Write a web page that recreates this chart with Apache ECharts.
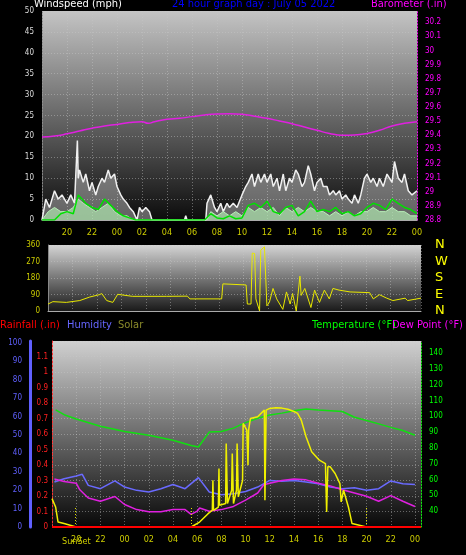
<!DOCTYPE html>
<html>
<head>
<meta charset="utf-8">
<script src="https://cdn.jsdelivr.net/npm/echarts@6/dist/echarts.min.js"></script>
<style>
html,body{margin:0;padding:0;background:#000;}
#chart{width:466px;height:555px;}
</style>
</head>
<body>
<div id="chart"></div>
<script>
// hours: 18 = 18:00 on previous day, 48 = 00:00 next day
var gustData = [[18,0],[18.3,5],[18.6,3],[19,7],[19.3,5],[19.6,6],[20,4],[20.3,6],[20.6,4],[20.83,19],[20.9,10],[21,12],[21.3,9],[21.5,11],[21.8,7],[22,9],[22.3,6],[22.5,8],[22.8,10],[23,9],[23.3,12],[23.5,10],[23.8,11],[24,8],[24.3,6],[24.5,5],[24.8,4],[25,3],[25.3,2],[25.6,0],[25.8,3],[26,2],[26.3,3],[26.6,2],[26.8,0],[29.4,0],[29.5,1],[29.6,0],[31.1,0],[31.2,4],[31.5,6],[31.8,3],[32,2],[32.3,4],[32.5,2],[32.8,4],[33,3],[33.3,4],[33.6,3],[34,6],[34.3,8],[34.5,9],[34.8,11],[35,8],[35.3,11],[35.5,9],[35.8,11],[36,9],[36.3,11],[36.5,8],[36.8,10],[37,7],[37.3,11],[37.5,7],[37.8,10],[38,9],[38.3,12],[38.5,11],[38.8,8],[39,9],[39.3,13],[39.5,11],[39.8,7],[40,9],[40.3,10],[40.5,8],[40.8,8],[41,6],[41.3,7],[41.5,6],[41.8,7],[42,5],[42.3,6],[42.5,5],[42.8,4],[43,6],[43.3,4],[43.5,6],[43.8,10],[44,11],[44.3,9],[44.5,10],[44.8,8],[45,10],[45.3,8],[45.6,11],[46,9],[46.2,14],[46.5,10],[46.8,9],[47,11],[47.3,7],[47.6,6],[48,7]];
var speedData = [[18,0],[18.5,2],[19,3],[19.5,2],[20,2],[20.5,3],[20.9,5],[21.3,4],[21.8,3],[22.3,2],[22.8,3],[23.3,4],[23.8,2],[24.3,1],[24.8,1],[25.3,0],[31.2,0],[31.5,2],[32,1],[32.5,2],[33,1],[33.5,2],[34,1],[34.5,3],[35,2],[35.5,3],[36,2],[36.5,3],[37,1],[37.5,3],[38,2],[38.5,3],[39,2],[39.5,3],[40,2],[40.5,2],[41,1],[41.5,2],[42,1],[42.5,2],[43,1],[43.5,2],[44,2],[44.5,3],[45,2],[45.5,2],[46,3],[46.5,2],[47,2],[47.5,1],[48,1]];
var avgData = [[18,0],[19,0],[19.5,1.5],[20,2],[20.5,1.5],[20.9,6],[21.5,4],[22,3],[22.5,2.5],[23,5],[23.5,3.5],[24,2],[24.5,1],[25,0.5],[25.5,0],[31,0],[31.5,1.5],[32,0.5],[32.5,0.3],[33,1],[33.5,0.3],[34,0.5],[34.5,3.5],[35,4],[35.5,3],[36,4.5],[36.5,2],[37,1.5],[37.5,3],[38,3.5],[38.5,1],[39,2],[39.5,4.5],[40,2],[40.5,2.5],[41,2],[41.5,3],[42,1.5],[42.5,2],[43,1],[43.5,1.5],[44,3],[44.5,4],[45,3.5],[45.5,2.5],[46,5],[46.5,4],[47,3],[47.5,2.5],[48,1.5]];
var baroData = [[18,29.387],[19,29.394],[20,29.41],[21,29.43],[22,29.45],[23,29.466],[24,29.477],[25,29.49],[26,29.496],[26.5,29.485],[27,29.496],[28,29.513],[29,29.52],[30,29.532],[31,29.544],[32,29.551],[33,29.553],[34,29.549],[35,29.535],[36,29.52],[37,29.501],[38,29.482],[39,29.458],[40,29.435],[41,29.413],[42,29.4],[43,29.402],[44,29.413],[45,29.435],[46,29.466],[47,29.485],[48,29.496]];

var dirData = [[18,38],[18.4,51],[19.5,47],[20.6,57],[21.4,76],[22.2,89],[22.4,95],[22.8,57],[23.3,47],[23.7,91],[24.9,80],[27.7,80],[29.4,81],[29.6,66],[32.2,66],[32.3,148],[34.2,142],[34.3,38],[34.6,38],[34.7,316],[34.9,313],[35.0,66],[35.3,0],[35.4,332],[35.7,350],[35.8,354],[35.9,28],[36.1,47],[36.4,123],[36.7,66],[37.2,9],[37.5,104],[37.8,38],[38.0,95],[38.3,0],[38.6,190],[38.7,85],[39.0,123],[39.5,19],[39.8,114],[40.2,47],[40.6,114],[41.0,66],[41.3,123],[41.8,114],[42.7,104],[44.3,100],[44.6,66],[45.1,89],[45.7,70],[46.2,57],[47.2,70],[47.4,57],[48.5,70]];
var dirLabels = {0:"N",90:"E",180:"S",270:"W",360:"N"};

var tempData = [[18.3,104],[19,101],[20,98.3],[22,93.7],[24,90.4],[26,88],[28,84.8],[29.5,81.5],[30.1,80.6],[31,90],[32,90.4],[33,92.5],[34,96],[35,98.7],[36,100.8],[37,102],[38,103.5],[39,104.6],[40,104],[41,103.5],[42,103],[43,99.4],[44,97.3],[45,95.2],[46,93],[47,91],[48,88]];
var dewData = [[18.2,60.4],[19,58.8],[20,57.7],[20.3,53.5],[21,48.3],[22,46.3],[23.2,49.3],[24,44.2],[25,41],[26,39.6],[27,39.6],[28,41],[29,41],[29.5,38],[30,40],[30.2,42],[31,40],[32,41],[33,43],[34,47],[35,51.5],[35.5,56.7],[36,57.7],[37,59.4],[38,60.4],[39,59.8],[40,57.7],[41,56],[42,53.5],[43,51.5],[44,49.4],[45,46.3],[46,49.8],[47,46.3],[48,43]];
var humData = [[18.2,24.4],[19,26.2],[20,27.7],[20.5,28.6],[21,22.6],[22,20.8],[23.2,25],[24,21.7],[25,19.9],[26,19],[27,20.8],[28,23.1],[29,20.8],[30.1,26.8],[31,19],[32,17.5],[33,18],[34,19.3],[35,21.7],[36,25.3],[37,24.8],[38,25.3],[39,24.4],[40,23.5],[41,21.7],[42,20.8],[43,21.3],[44,19.9],[45,20.8],[46,25],[47,23.5],[48,23.1]];
var rainData = [[18,0],[48.5,0]];
var solarData = [[18,183],[18.3,129],[18.5,32],[19,22],[20,0],[29.5,0],[30.2,32],[30.9,86],[31.25,108],[31.3,302],[31.35,108],[31.75,129],[31.8,377],[31.85,140],[32,129],[32.35,151],[32.4,539],[32.5,151],[32.6,151],[32.85,237],[32.9,474],[33.0,151],[33.1,162],[33.25,237],[33.3,539],[33.4,194],[33.5,194],[33.75,300],[33.8,668],[34.1,625],[34.2,398],[34.25,625],[34.4,700],[35,711],[35.55,754],[35.6,172],[35.7,754],[36,765],[36.5,769],[37,767],[37.5,760],[38,745],[38.3,733],[38.6,690],[39,582],[39.46,485],[40.1,431],[40.6,409],[40.7,97],[40.8,388],[41,388],[41.4,345],[41.8,280],[41.9,162],[42.1,237],[42.5,129],[42.8,22],[44,0],[48.5,0]];
var sunLines = [19.9, 29.5, 44.0];

function hourLabel(v) {
    var h = v % 24;
    return (h < 10 ? "0" : "") + h;
}

var gridBg = function (top, bottom) {
    return new echarts.graphic.LinearGradient(0, 0, 0, 1, [
        {offset: 0, color: top}, {offset: 1, color: bottom}
    ]);
};

var FONT = "DejaVu Sans Condensed";
var splitDots = {show: true, lineStyle: {color: "rgba(200,200,200,0.45)", type: [1, 2]}};

function label(x, y, text, color) {
    return {type: "text", left: x, top: y, style: {text: text, fill: color, font: "11px " + FONT}};
}

var myChart = echarts.init(document.getElementById("chart"));
var option = {
    backgroundColor: "#000",
    animation: false,
    textStyle: {fontFamily: FONT},
    graphic: [
        label(34, -1, "Windspeed (mph)", "#fff"),
        label(172, -1, "24 hour graph day : July 05 2022", "#0000ff"),
        label(371, -1, "Barometer (.in)", "#ff00ff"),
        label(0, 320, "Rainfall (.in)", "#ff0000"),
        label(67, 320, "Humidity", "#6666ff"),
        label(118, 320, "Solar", "#8a8a2a"),
        label(312, 320, "Temperature (°F)", "#00ff00"),
        label(392, 320, "Dew Point (°F)", "#ff00ff"),
        {type: "text", left: 62, top: 537, style: {text: "SunSet", fill: "#cccc00", font: "9px " + FONT}},
        {type: "rect", shape: {x: 42, y: 11, width: 375, height: 209}, z: -1, style: {fill: gridBg("#c4c4c4", "#0c0c0c")}},
        {type: "rect", shape: {x: 48, y: 245, width: 373, height: 66}, z: -1, style: {fill: gridBg("#d4d4d4", "#1a1a1a")}},
        {type: "rect", shape: {x: 52, y: 341, width: 369, height: 186}, z: -1, style: {fill: gridBg("#d0d0d0", "#080808")}}
    ],
    grid: [
        {left: 42, right: 49, top: 11, height: 209},
        {left: 48, right: 45, top: 245, height: 66},
        {left: 52, right: 45, top: 341, height: 186}
    ],
    xAxis: [
        {type: "value", gridIndex: 0, min: 18, max: 48, interval: 2,
            axisLine: {lineStyle: {color: "#aaa"}}, axisTick: {show: false},
            axisLabel: {color: "#cccc00", fontSize: 9, showMinLabel: false, formatter: hourLabel},
            splitLine: splitDots},
        {type: "value", gridIndex: 1, min: 18, max: 48.5, interval: 2,
            axisLine: {lineStyle: {color: "#aaa"}}, axisTick: {show: false},
            axisLabel: {show: false}, splitLine: splitDots},
        {type: "value", gridIndex: 2, min: 18, max: 48.5, interval: 2,
            axisLine: {show: false}, axisTick: {show: false},
            axisLabel: {color: "#cccc00", fontSize: 9, showMinLabel: false, formatter: hourLabel},
            splitLine: splitDots}
    ],
    yAxis: [
        {type: "value", gridIndex: 0, min: 0, max: 50, interval: 5, position: "left",
            axisLine: {show: true, lineStyle: {color: "#888", type: [1, 2]}}, axisTick: {show: false},
            axisLabel: {color: "#ddd", fontSize: 8}, splitLine: splitDots},
        {type: "value", gridIndex: 0, min: 28.8, max: 30.28, interval: 0.1, position: "right",
            axisLine: {show: true, lineStyle: {color: "#ff00ff", type: [1, 2]}}, axisTick: {show: false},
            axisLabel: {color: "#ff00ff", fontSize: 8, showMaxLabel: false,
                formatter: function (v) { return String(+v.toFixed(1)); }},
            splitLine: {show: false}},
        {type: "value", gridIndex: 1, min: 0, max: 360, interval: 90, position: "left",
            axisLine: {show: true, lineStyle: {color: "#888"}}, axisTick: {show: false},
            axisLabel: {color: "#cccc00", fontSize: 8}, splitLine: splitDots},
        {type: "value", gridIndex: 1, min: 0, max: 360, interval: 90, position: "right",
            axisLine: {show: false}, axisTick: {show: false},
            axisLabel: {color: "#ffff00", fontSize: 13, margin: 14, fontFamily: "DejaVu Sans",
                formatter: function (v) { return dirLabels[v]; }},
            splitLine: {show: false}},
        {type: "value", gridIndex: 2, min: 0, max: 101, interval: 10, position: "left", offset: 22,
            axisLine: {show: true, lineStyle: {color: "#6060ff", width: 3}}, axisTick: {show: false},
            axisLabel: {color: "#6060ff", fontSize: 8, showMaxLabel: false,
                formatter: function (v) { return v > 100 ? "" : v; }},
            splitLine: {show: false}},
        {type: "value", gridIndex: 2, min: 0, max: 1.2, interval: 0.1, position: "left",
            axisLine: {show: true, lineStyle: {color: "#ff3030", type: [2, 2]}}, axisTick: {show: false},
            axisLabel: {color: "#ff2020", fontSize: 8, showMaxLabel: false, margin: 4,
                formatter: function (v) { return String(+v.toFixed(1)); }},
            splitLine: splitDots},
        {type: "value", gridIndex: 2, min: 30, max: 147.6, interval: 10, position: "right",
            axisLine: {show: true, lineStyle: {color: "#00ff00", type: [1, 2]}}, axisTick: {show: false},
            axisLabel: {color: "#00ff00", fontSize: 8, showMinLabel: false, showMaxLabel: false},
            splitLine: {show: false}},
        {type: "value", gridIndex: 2, min: 0, max: 1200, show: false}
    ],
    series: [
        {name: "Gust", type: "line", xAxisIndex: 0, yAxisIndex: 0, data: gustData, symbol: "none",
            lineStyle: {color: "#f0f0f0", width: 1.5}, areaStyle: {color: "rgba(235,235,235,0.55)"}},
        {name: "Speed", type: "line", xAxisIndex: 0, yAxisIndex: 0, data: speedData, symbol: "none",
            lineStyle: {color: "#b8f0b8", width: 1}, areaStyle: {color: "#b0e8b0"}},
        {name: "Average", type: "line", xAxisIndex: 0, yAxisIndex: 0, data: avgData, symbol: "none",
            lineStyle: {color: "#00e000", width: 1.5}},
        {name: "Barometer", type: "line", xAxisIndex: 0, yAxisIndex: 1, data: baroData, symbol: "none", smooth: true,
            lineStyle: {color: "#e020e0", width: 1.5}},
        {name: "Direction", type: "line", xAxisIndex: 1, yAxisIndex: 2, data: dirData, symbol: "none",
            lineStyle: {color: "#e8e800", width: 1}},
        {name: "Rainfall", type: "line", xAxisIndex: 2, yAxisIndex: 5, data: rainData, symbol: "none",
            lineStyle: {color: "#ff0000", width: 2}, z: 5},
        {name: "Humidity", type: "line", xAxisIndex: 2, yAxisIndex: 4, data: humData, symbol: "none",
            lineStyle: {color: "#6a6aff", width: 1.5}},
        {name: "Dew Point", type: "line", xAxisIndex: 2, yAxisIndex: 6, data: dewData, symbol: "none",
            lineStyle: {color: "#e020e0", width: 1.5}},
        {name: "Temperature", type: "line", xAxisIndex: 2, yAxisIndex: 6, data: tempData, symbol: "none",
            lineStyle: {color: "#10e010", width: 1.5}},
        {name: "Solar", type: "line", xAxisIndex: 2, yAxisIndex: 7, data: solarData, symbol: "none",
            lineStyle: {color: "#f0f000", width: 1.5},
            markLine: {symbol: "none", silent: true, label: {show: false},
                lineStyle: {color: "#e0e000", type: [1, 2], width: 1},
                data: sunLines.map(function (h) { return [{coord: [h, 0]}, {coord: [h, 130]}]; })}}
    ]
};
myChart.setOption(option);
</script>
</body>
</html>
